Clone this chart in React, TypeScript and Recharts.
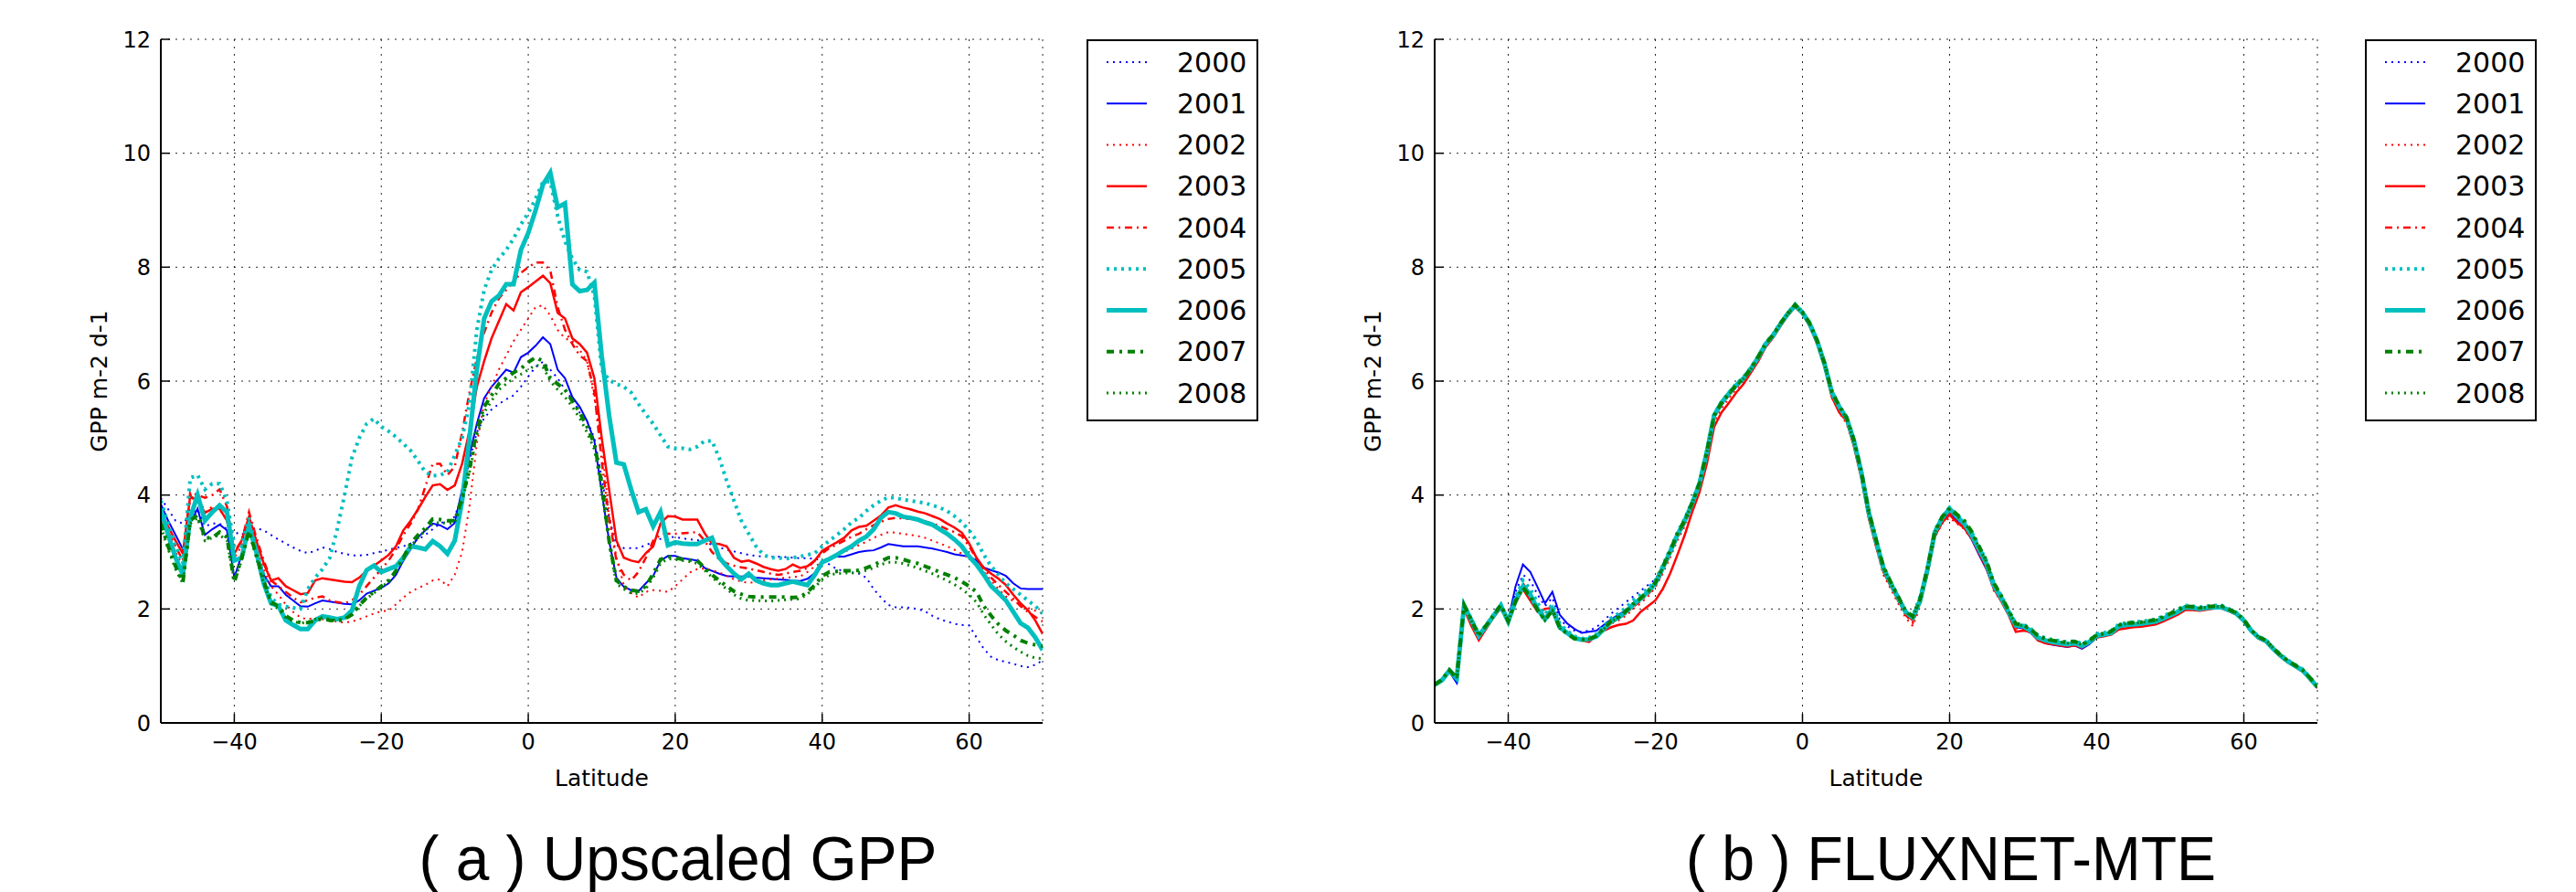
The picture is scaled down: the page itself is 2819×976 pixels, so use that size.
import React from 'react';
import { LineChart, Line, XAxis, YAxis, CartesianGrid } from 'recharts';

// --- latitude categories (degrees) ---
const LAT = [
  -50, -49, -48, -47, -46, -45, -44, -43, -42, -41,
  -40, -39, -38, -37, -36, -35, -34, -33, -32, -31,
  -30, -29, -28, -27, -26, -25, -24, -23, -22, -21,
  -20, -19, -18, -17, -16, -15, -14, -13, -12, -11,
  -10, -9, -8, -7, -6, -5, -4, -3, -2, -1,
  0, 1, 2, 3, 4, 5, 6, 7, 8, 9,
  10, 11, 12, 13, 14, 15, 16, 17, 18, 19,
  20, 21, 22, 23, 24, 25, 26, 27, 28, 29,
  30, 31, 32, 33, 34, 35, 36, 37, 38, 39,
  40, 41, 42, 43, 44, 45, 46, 47, 48, 49,
  50, 51, 52, 53, 54, 55, 56, 57, 58, 59,
  60, 61, 62, 63, 64, 65, 66, 67, 68, 69, 70,
];

// --- (a) Upscaled GPP ---
const A2000 = [
  3.95, 3.75, 3.55, 3.5, 3.65, 3.75, 3.45, 3.5, 3.5, 3.4,
  3.35, 3.3, 3.4, 3.42, 3.38, 3.3, 3.22, 3.15, 3.08, 3.02,
  2.98, 3.02, 3.08, 3.05, 3.0, 2.97, 2.94, 2.94, 2.95, 2.98,
  3.01, 3.04, 3.07, 3.1, 3.15, 3.22, 3.3, 3.4, 3.5, 3.55,
  3.62, 4.0, 4.6, 5.1, 5.35, 5.5, 5.6, 5.68, 5.75, 5.9,
  6.08, 6.25, 6.34, 6.2, 6.05, 5.85, 5.68, 5.45, 5.3, 5.0,
  4.3, 3.6, 3.12, 3.07, 3.07, 3.07, 3.12, 3.18, 3.23, 3.27,
  3.26, 3.24, 3.22, 3.21, 3.17, 3.13, 3.08, 3.04, 3.01, 2.98,
  2.95, 2.93, 2.92, 2.92, 2.92, 2.91, 2.9, 2.89, 2.89, 2.88,
  2.85, 2.78, 2.7, 2.66, 2.64, 2.62, 2.55, 2.35, 2.2, 2.07,
  2.03, 2.03, 2.02, 2.0, 1.96, 1.88, 1.82, 1.78, 1.74, 1.72,
  1.71, 1.5, 1.3, 1.16, 1.1, 1.07, 1.04, 1.0, 0.98, 1.02, 1.1,
];
const A2001 = [
  3.84, 3.55, 3.3, 3.05, 3.5, 3.76, 3.3, 3.4, 3.48, 3.38,
  2.55, 2.95, 3.4, 3.0, 2.6, 2.4, 2.4, 2.25, 2.15, 2.05,
  2.04, 2.1, 2.15, 2.13, 2.11, 2.09, 2.08, 2.15, 2.27, 2.32,
  2.37, 2.45, 2.6, 2.85, 3.05, 3.26, 3.38, 3.5, 3.47, 3.4,
  3.51, 4.1, 4.7, 5.25, 5.7, 5.9, 6.05, 6.2, 6.15, 6.42,
  6.5, 6.62, 6.77, 6.65, 6.2, 6.05, 5.72, 5.55, 5.3, 4.95,
  4.05, 3.2, 2.55, 2.39, 2.33, 2.31, 2.45, 2.58, 2.85, 2.93,
  2.93, 2.89, 2.87, 2.85, 2.72, 2.67, 2.62, 2.58, 2.57, 2.57,
  2.57, 2.55, 2.54, 2.53, 2.52, 2.51, 2.5, 2.49, 2.53, 2.63,
  2.8, 2.9, 2.92, 2.92, 2.96, 3.0, 3.02, 3.03, 3.08, 3.14,
  3.12, 3.1, 3.1, 3.1, 3.08, 3.06, 3.03, 3.0, 2.96, 2.94,
  2.92, 2.85, 2.73, 2.68, 2.64, 2.58, 2.45, 2.36, 2.35, 2.35, 2.35,
];
const A2002 = [
  3.6, 3.3, 3.0, 2.75, 3.9, 4.0, 3.7, 3.8, 3.75, 3.55,
  2.9, 3.1, 3.55, 3.1, 2.7, 2.4, 2.25, 2.08, 1.95, 1.85,
  1.82, 1.85, 1.82, 1.8, 1.78, 1.76, 1.78, 1.82, 1.87, 1.92,
  1.96, 1.97, 2.08, 2.2, 2.3, 2.37, 2.42, 2.5, 2.52, 2.4,
  2.6, 3.0, 3.8, 4.9, 5.6, 5.9, 6.2, 6.45, 6.7, 6.9,
  7.1, 7.3, 7.33, 7.15, 6.9, 6.75, 6.7, 6.55, 6.35, 5.7,
  4.9, 3.65, 2.9, 2.42, 2.28, 2.2, 2.3, 2.33, 2.32, 2.3,
  2.4, 2.52, 2.64, 2.7, 2.71, 2.68, 2.64, 2.58, 2.52, 2.48,
  2.46, 2.47, 2.5, 2.52, 2.53, 2.55, 2.56, 2.57, 2.65, 2.75,
  2.82, 2.88, 2.95, 3.0, 3.06, 3.12, 3.18, 3.25, 3.3, 3.35,
  3.34, 3.32, 3.3, 3.28, 3.25, 3.2, 3.15, 3.1, 3.04, 2.97,
  2.9, 2.8, 2.65, 2.5, 2.35, 2.22, 2.14, 2.08, 2.02, 1.97, 1.92,
];
const A2003 = [
  3.7, 3.45, 3.2, 2.97, 3.98, 3.9, 3.69, 3.76, 3.76, 3.55,
  2.97, 3.2, 3.62, 3.2, 2.8, 2.5, 2.54, 2.4, 2.33, 2.26,
  2.28, 2.5, 2.54, 2.52, 2.5, 2.48, 2.47, 2.55, 2.67, 2.76,
  2.85, 2.95, 3.1, 3.38, 3.55, 3.75, 3.97, 4.17, 4.19, 4.09,
  4.17, 4.55, 5.13, 5.9, 6.35, 6.75, 7.05, 7.35, 7.24, 7.56,
  7.65, 7.75, 7.85, 7.72, 7.2, 7.1, 6.75, 6.65, 6.5, 6.05,
  5.0, 4.1, 3.2, 2.9, 2.85, 2.82, 2.98, 3.1, 3.5, 3.63,
  3.62, 3.57, 3.57, 3.57, 3.33, 3.15, 3.14, 3.1, 2.9, 2.83,
  2.85, 2.8, 2.74, 2.7, 2.67, 2.7, 2.78, 2.72, 2.75, 2.85,
  3.02, 3.1, 3.17, 3.25, 3.38, 3.44, 3.46, 3.55, 3.64, 3.78,
  3.82, 3.78, 3.75, 3.71, 3.68, 3.63, 3.58, 3.5, 3.43, 3.34,
  3.15, 2.9, 2.72, 2.62, 2.53, 2.42, 2.25, 2.1, 1.98, 1.8, 1.56,
];
const A2004 = [
  3.6, 3.35, 3.1, 2.85, 4.05, 4.0, 3.95, 4.0, 4.1, 3.8,
  3.0, 3.2, 3.7, 3.25, 2.85, 2.5, 2.4, 2.3, 2.2, 2.12,
  2.15, 2.2, 2.22, 2.15, 2.12, 2.1, 2.15, 2.25, 2.4, 2.55,
  2.7, 2.85, 3.05, 3.3, 3.5, 3.75, 4.15, 4.55, 4.55, 4.35,
  4.5, 5.1, 5.8, 6.4, 6.85, 7.2, 7.45, 7.6, 7.75, 7.9,
  8.0, 8.08, 8.08, 7.94, 7.3, 6.9, 6.65, 6.45, 6.35, 5.8,
  4.6, 3.6, 2.85, 2.6, 2.5, 2.65, 2.9, 3.2, 3.3, 3.32,
  3.32, 3.33, 3.34, 3.35, 3.2, 3.0, 2.87, 2.8, 2.76, 2.73,
  2.71, 2.68, 2.65, 2.62, 2.6, 2.62, 2.65, 2.67, 2.72, 2.85,
  2.98, 3.07, 3.13, 3.2, 3.27, 3.32, 3.4, 3.47, 3.53, 3.58,
  3.6, 3.59, 3.58, 3.57, 3.54, 3.5, 3.46, 3.4, 3.35, 3.28,
  3.1, 2.88, 2.7, 2.55, 2.42, 2.3, 2.18, 2.05, 1.95, 1.86, 1.78,
];
const A2005 = [
  3.9, 3.5, 3.1, 2.8, 4.3, 4.35, 4.1, 4.2, 4.2, 3.9,
  3.1, 3.1, 3.6, 3.0, 2.6, 2.2, 2.08, 2.04, 2.02, 2.0,
  2.35, 2.55, 2.7, 2.9, 3.4, 4.0, 4.65, 5.0, 5.25, 5.34,
  5.2, 5.12, 5.02, 4.9, 4.78, 4.6, 4.4, 4.34, 4.35, 4.4,
  4.7, 5.0, 5.6, 6.9, 7.6, 7.95, 8.15, 8.3, 8.5, 8.75,
  8.95, 9.2, 9.5, 9.5, 8.9, 8.45, 8.15, 7.95, 7.92, 7.5,
  6.2, 6.02, 5.95, 5.9, 5.8, 5.6, 5.42, 5.25, 5.05, 4.85,
  4.82, 4.82, 4.8, 4.85, 4.95, 4.95, 4.65, 4.25, 3.9, 3.55,
  3.32, 3.1, 2.95, 2.9, 2.9, 2.88, 2.9, 2.92, 2.95, 2.98,
  3.1, 3.2, 3.3, 3.4, 3.52, 3.6, 3.72, 3.82, 3.9, 3.96,
  3.95, 3.92, 3.9, 3.88, 3.86, 3.82, 3.78, 3.72, 3.63, 3.52,
  3.38, 3.2, 2.95, 2.75, 2.6, 2.45, 2.35, 2.25, 2.15, 2.05, 1.92,
];
const A2006 = [
  3.75, 3.3, 2.9, 2.6, 3.6, 4.0, 3.55, 3.7, 3.82, 3.7,
  2.85, 2.9, 3.45, 3.0, 2.45, 2.1, 2.05, 1.8, 1.72, 1.65,
  1.65, 1.8, 1.87, 1.85, 1.82, 1.85, 1.97, 2.4, 2.68, 2.76,
  2.65, 2.7, 2.75, 2.9, 3.1, 3.08, 3.05, 3.19, 3.1, 2.97,
  3.2, 3.9, 5.0, 6.2, 7.1, 7.4, 7.5, 7.7, 7.7, 8.3,
  8.6, 9.0, 9.45, 9.66, 9.05, 9.12, 7.7, 7.58, 7.6, 7.73,
  6.44, 5.4, 4.57, 4.54, 4.1, 3.7, 3.75, 3.45, 3.7, 3.12,
  3.17, 3.15, 3.14, 3.14, 3.2, 3.25, 2.9, 2.75, 2.62, 2.52,
  2.62, 2.5, 2.45, 2.42, 2.42, 2.45, 2.48, 2.45, 2.42, 2.6,
  2.82, 2.88, 2.95, 3.03, 3.1, 3.2, 3.27, 3.4, 3.6, 3.7,
  3.68, 3.62, 3.6, 3.57, 3.52, 3.48, 3.4, 3.32, 3.22, 3.1,
  2.92, 2.78, 2.6, 2.4, 2.28, 2.15, 1.95, 1.75, 1.67, 1.5, 1.28,
];
const A2007 = [
  3.5, 3.1, 2.75, 2.47, 3.55, 3.65, 3.25, 3.25, 3.35, 3.26,
  2.47, 2.9, 3.37, 2.95, 2.5, 2.12, 2.05, 1.88, 1.8, 1.76,
  1.76, 1.8, 1.83, 1.8, 1.79, 1.82, 1.9, 2.06, 2.2, 2.3,
  2.4, 2.5, 2.67, 2.9, 3.15, 3.3, 3.42, 3.58, 3.57, 3.55,
  3.55, 3.95, 4.45, 5.15, 5.55, 5.75, 5.95, 6.05, 6.15, 6.22,
  6.33, 6.42, 6.35, 6.05, 5.95, 5.85, 5.65, 5.45, 5.2, 4.9,
  4.2, 3.2, 2.5, 2.39, 2.33, 2.31, 2.4, 2.62, 2.87, 2.92,
  2.9, 2.87, 2.86, 2.85, 2.72, 2.6, 2.5, 2.4, 2.31, 2.26,
  2.22, 2.21, 2.21, 2.21, 2.21, 2.21, 2.2, 2.21, 2.3, 2.42,
  2.58, 2.65, 2.66, 2.67, 2.67, 2.68, 2.72, 2.77, 2.84, 2.9,
  2.9, 2.87, 2.83, 2.8, 2.75, 2.7, 2.65, 2.6, 2.55, 2.48,
  2.4, 2.3, 2.05, 1.88, 1.73, 1.62, 1.54, 1.45, 1.4, 1.37, 1.35,
];
const A2008 = [
  3.45, 3.05, 2.7, 2.45, 3.5, 3.6, 3.2, 3.25, 3.3, 3.2,
  2.5, 2.85, 3.35, 2.9, 2.45, 2.1, 2.0, 1.85, 1.78, 1.75,
  1.77, 1.82, 1.85, 1.82, 1.8, 1.83, 1.9, 2.05, 2.18, 2.28,
  2.38, 2.48, 2.65, 2.87, 3.1, 3.25, 3.38, 3.5, 3.52, 3.5,
  3.52, 3.9, 4.4, 5.05, 5.45, 5.65, 5.85, 5.95, 6.05, 6.12,
  6.2, 6.28, 6.25, 6.0, 5.85, 5.72, 5.55, 5.35, 5.1, 4.8,
  4.1, 3.15, 2.45, 2.35, 2.28, 2.27, 2.36, 2.55, 2.8, 2.88,
  2.87, 2.85, 2.83, 2.8, 2.68, 2.56, 2.45, 2.35, 2.25, 2.18,
  2.15, 2.15, 2.14, 2.14, 2.15, 2.16, 2.17, 2.18, 2.26, 2.38,
  2.52, 2.6, 2.62, 2.63, 2.63, 2.64, 2.68, 2.72, 2.78, 2.82,
  2.82, 2.8, 2.76, 2.72, 2.67, 2.62, 2.56, 2.5, 2.43, 2.35,
  2.25, 2.12, 1.9, 1.72, 1.55, 1.43, 1.33, 1.25, 1.18, 1.14, 1.13,
];

// --- (b) FLUXNET-MTE ---
const B2000 = [
  0.67, 0.75, 0.9, 0.76, 2.04, 1.8, 1.55, 1.7, 1.88, 2.05,
  1.8, 2.3, 2.6, 2.5, 2.25, 2.05, 2.2, 1.82, 1.7, 1.62,
  1.6, 1.62, 1.68, 1.8, 1.92, 2.02, 2.12, 2.22, 2.32, 2.42,
  2.52, 2.75, 3.0, 3.28, 3.52, 3.82, 4.18, 4.72, 5.36, 5.6,
  5.76, 5.92, 6.05, 6.22, 6.42, 6.64, 6.8, 7.0, 7.18, 7.32,
  7.2, 7.0, 6.68, 6.28, 5.78, 5.52, 5.32, 4.92, 4.38, 3.68,
  3.16, 2.68, 2.4, 2.16, 1.92, 1.82, 2.15, 2.65, 3.3, 3.55,
  3.7, 3.56, 3.45, 3.25, 3.0, 2.75, 2.38, 2.16, 1.92, 1.68,
  1.67, 1.6, 1.47, 1.42, 1.38, 1.37, 1.35, 1.37, 1.32, 1.4,
  1.5, 1.53, 1.56, 1.68, 1.7, 1.72, 1.73, 1.75, 1.77, 1.82,
  1.88, 1.94, 2.01, 2.0, 1.98, 2.0, 2.02, 2.02, 1.97, 1.9,
  1.78, 1.6, 1.48, 1.42, 1.28, 1.16, 1.06, 0.98, 0.9, 0.76, 0.62,
];
const B2001 = [
  0.67, 0.75, 0.9, 0.7, 2.04, 1.78, 1.52, 1.7, 1.88, 2.0,
  1.8, 2.4, 2.78, 2.65, 2.38, 2.1, 2.3, 1.9, 1.75, 1.65,
  1.58, 1.6, 1.62, 1.72, 1.82, 1.9, 1.98, 2.08, 2.2, 2.3,
  2.45, 2.72, 3.0, 3.28, 3.52, 3.82, 4.18, 4.72, 5.36, 5.6,
  5.76, 5.92, 6.04, 6.2, 6.4, 6.63, 6.8, 7.0, 7.17, 7.32,
  7.2, 7.0, 6.68, 6.28, 5.78, 5.53, 5.33, 4.93, 4.38, 3.68,
  3.18, 2.7, 2.42, 2.18, 1.93, 1.83, 2.17, 2.66, 3.3, 3.55,
  3.68, 3.55, 3.42, 3.22, 2.95, 2.7, 2.36, 2.15, 1.92, 1.68,
  1.66, 1.58, 1.46, 1.4, 1.37, 1.35, 1.33, 1.36, 1.3, 1.38,
  1.5, 1.53, 1.56, 1.68, 1.7, 1.71, 1.72, 1.74, 1.76, 1.81,
  1.87, 1.93, 2.0, 2.0, 1.98, 2.0, 2.02, 2.02, 1.97, 1.9,
  1.78, 1.6, 1.48, 1.42, 1.28, 1.16, 1.06, 0.98, 0.9, 0.76, 0.62,
];
const B2002 = [
  0.66, 0.74, 0.9, 0.76, 2.02, 1.75, 1.48, 1.68, 1.86, 2.04,
  1.76, 2.12, 2.42, 2.22, 1.98, 1.9, 2.02, 1.7, 1.58, 1.48,
  1.45, 1.45, 1.55, 1.64, 1.74, 1.8, 1.88, 2.0, 2.1, 2.22,
  2.38, 2.62, 2.9, 3.2, 3.45, 3.78, 4.12, 4.65, 5.28, 5.52,
  5.7, 5.86, 6.0, 6.18, 6.38, 6.6, 6.76, 6.96, 7.15, 7.3,
  7.18, 6.96, 6.64, 6.24, 5.72, 5.45, 5.25, 4.85, 4.3, 3.6,
  3.08, 2.6, 2.35, 2.1, 1.85, 1.7, 2.05, 2.6, 3.25, 3.5,
  3.6, 3.5, 3.4, 3.22, 2.98, 2.74, 2.32, 2.14, 1.9, 1.66,
  1.64, 1.58, 1.46, 1.42, 1.4, 1.38, 1.36, 1.38, 1.33, 1.4,
  1.5, 1.53, 1.56, 1.67, 1.69, 1.7, 1.71, 1.73, 1.75, 1.8,
  1.86, 1.92, 2.0, 1.99, 1.98, 2.0, 2.01, 2.01, 1.96, 1.9,
  1.78, 1.6, 1.48, 1.42, 1.28, 1.16, 1.06, 0.98, 0.9, 0.76, 0.61,
];
const B2003 = [
  0.66, 0.74, 0.9, 0.76, 2.0, 1.7, 1.45, 1.65, 1.85, 2.02,
  1.75, 2.1, 2.35, 2.15, 1.95, 2.0, 2.02, 1.7, 1.58, 1.48,
  1.45, 1.42, 1.55, 1.62, 1.68, 1.72, 1.74, 1.8, 1.95, 2.05,
  2.15, 2.35, 2.62, 2.95, 3.3, 3.7, 4.05, 4.55, 5.2, 5.45,
  5.62, 5.8, 5.95, 6.15, 6.35, 6.6, 6.76, 6.96, 7.15, 7.3,
  7.18, 6.96, 6.65, 6.25, 5.72, 5.45, 5.3, 4.85, 4.3, 3.6,
  3.1, 2.65, 2.4, 2.15, 1.92, 1.8, 2.12, 2.62, 3.28, 3.52,
  3.65, 3.52, 3.42, 3.24, 2.98, 2.72, 2.36, 2.14, 1.9, 1.6,
  1.62, 1.6, 1.45, 1.4, 1.38, 1.36, 1.34, 1.36, 1.32, 1.4,
  1.5, 1.52, 1.55, 1.64, 1.66, 1.68, 1.69, 1.71, 1.73, 1.78,
  1.84, 1.9, 1.98, 1.98, 1.97, 1.99, 2.01, 2.01, 1.96, 1.9,
  1.78, 1.6, 1.48, 1.42, 1.28, 1.16, 1.06, 0.98, 0.9, 0.76, 0.62,
];
const B2004 = [
  0.67, 0.75, 0.92, 0.77, 2.05, 1.78, 1.5, 1.69, 1.87, 2.05,
  1.77, 2.14, 2.45, 2.25, 1.98, 1.84, 2.02, 1.68, 1.57, 1.48,
  1.46, 1.46, 1.53, 1.65, 1.76, 1.83, 1.92, 2.04, 2.14, 2.26,
  2.4, 2.66, 2.95, 3.25, 3.5, 3.8, 4.15, 4.7, 5.35, 5.58,
  5.75, 5.9, 6.03, 6.2, 6.4, 6.63, 6.79, 6.99, 7.17, 7.32,
  7.2, 6.98, 6.68, 6.28, 5.76, 5.5, 5.3, 4.9, 4.35, 3.65,
  3.15, 2.68, 2.4, 2.15, 1.9, 1.76, 2.12, 2.66, 3.3, 3.56,
  3.7, 3.58, 3.46, 3.27, 3.02, 2.76, 2.38, 2.17, 1.93, 1.7,
  1.68, 1.61, 1.49, 1.44, 1.41, 1.39, 1.37, 1.39, 1.34, 1.41,
  1.52, 1.54, 1.57, 1.69, 1.71, 1.72, 1.73, 1.75, 1.77, 1.82,
  1.88, 1.94, 2.02, 2.01, 1.99, 2.01, 2.02, 2.02, 1.97, 1.91,
  1.79, 1.61, 1.49, 1.43, 1.29, 1.17, 1.07, 0.99, 0.91, 0.77, 0.62,
];
const B2005 = [
  0.68, 0.76, 0.93, 0.79, 2.08, 1.82, 1.56, 1.72, 1.9, 2.08,
  1.8, 2.2, 2.5, 2.35, 2.1, 1.9, 2.08, 1.74, 1.62, 1.52,
  1.48, 1.5, 1.56, 1.7, 1.84, 1.92, 2.02, 2.15, 2.25, 2.36,
  2.5, 2.76, 3.04, 3.34, 3.58, 3.88, 4.22, 4.78, 5.42, 5.64,
  5.8, 5.95, 6.07, 6.24, 6.44, 6.67, 6.82, 7.02, 7.2, 7.35,
  7.22, 7.02, 6.72, 6.32, 5.82, 5.57, 5.37, 4.97, 4.42, 3.72,
  3.22, 2.74, 2.47, 2.22, 1.97, 1.87, 2.22, 2.72, 3.37, 3.62,
  3.78, 3.65, 3.54, 3.35, 3.1, 2.85, 2.46, 2.24, 1.98, 1.74,
  1.73, 1.66, 1.54, 1.49, 1.46, 1.44, 1.42, 1.44, 1.39, 1.45,
  1.56, 1.58, 1.62, 1.73, 1.76, 1.77, 1.78, 1.8, 1.82, 1.87,
  1.93, 1.99, 2.06, 2.05, 2.03, 2.05, 2.06, 2.06, 2.0, 1.94,
  1.82, 1.64, 1.52, 1.46, 1.32, 1.2, 1.1, 1.02, 0.94, 0.8, 0.64,
];
const B2006 = [
  0.67, 0.75, 0.92, 0.78, 2.06, 1.8, 1.53, 1.7, 1.88, 2.06,
  1.78, 2.15, 2.4, 2.25, 2.0, 1.82, 2.0, 1.68, 1.58, 1.49,
  1.46, 1.47, 1.52, 1.65, 1.78, 1.85, 1.95, 2.08, 2.18, 2.3,
  2.45, 2.72, 3.0, 3.3, 3.55, 3.85, 4.2, 4.75, 5.4, 5.62,
  5.78, 5.93, 6.05, 6.22, 6.42, 6.65, 6.8, 7.0, 7.18, 7.33,
  7.2, 7.0, 6.7, 6.3, 5.8, 5.55, 5.35, 4.95, 4.4, 3.7,
  3.2, 2.72, 2.45, 2.2, 1.95, 1.85, 2.15, 2.7, 3.35, 3.6,
  3.76, 3.62, 3.5, 3.3, 3.05, 2.8, 2.42, 2.2, 1.95, 1.71,
  1.7, 1.62, 1.5, 1.45, 1.42, 1.4, 1.38, 1.4, 1.35, 1.42,
  1.53, 1.55, 1.58, 1.7, 1.72, 1.73, 1.74, 1.76, 1.78, 1.83,
  1.89, 1.95, 2.03, 2.02, 2.0, 2.02, 2.03, 2.03, 1.98, 1.92,
  1.8, 1.62, 1.5, 1.44, 1.3, 1.18, 1.08, 1.0, 0.92, 0.78, 0.63,
];
const B2007 = [
  0.67, 0.76, 0.93, 0.79, 2.07, 1.8, 1.54, 1.71, 1.89, 2.07,
  1.79, 2.14, 2.38, 2.22, 1.98, 1.8, 1.98, 1.67, 1.57, 1.48,
  1.46, 1.47, 1.53, 1.66, 1.79, 1.86, 1.96, 2.09, 2.19, 2.31,
  2.46, 2.73, 3.02, 3.32, 3.56, 3.86, 4.21, 4.76, 5.4, 5.62,
  5.78, 5.93, 6.05, 6.22, 6.43, 6.66, 6.81, 7.01, 7.19, 7.34,
  7.21, 7.01, 6.71, 6.31, 5.81, 5.56, 5.36, 4.96, 4.41, 3.72,
  3.22, 2.74, 2.47, 2.22, 1.97, 1.87, 2.18, 2.72, 3.36, 3.62,
  3.77, 3.66, 3.55, 3.36, 3.1, 2.85, 2.46, 2.24, 1.98, 1.74,
  1.72, 1.65, 1.53, 1.48, 1.45, 1.43, 1.41, 1.43, 1.38, 1.44,
  1.55, 1.57, 1.61, 1.72, 1.75, 1.76, 1.77, 1.79, 1.81, 1.86,
  1.92, 1.98, 2.05, 2.04, 2.02, 2.04, 2.05, 2.05, 1.99, 1.93,
  1.81, 1.63, 1.51, 1.45, 1.31, 1.19, 1.09, 1.01, 0.93, 0.79, 0.63,
];
const B2008 = [
  0.67, 0.75, 0.92, 0.78, 2.06, 1.79, 1.53, 1.7, 1.88, 2.06,
  1.78, 2.13, 2.37, 2.21, 1.97, 1.8, 1.97, 1.66, 1.56, 1.48,
  1.46, 1.47, 1.53, 1.65, 1.78, 1.85, 1.95, 2.08, 2.18, 2.3,
  2.45, 2.72, 3.0, 3.3, 3.55, 3.85, 4.2, 4.74, 5.39, 5.61,
  5.77, 5.92, 6.04, 6.21, 6.42, 6.65, 6.8, 7.0, 7.18, 7.33,
  7.2, 7.0, 6.7, 6.3, 5.8, 5.55, 5.35, 4.95, 4.4, 3.7,
  3.2, 2.72, 2.45, 2.2, 1.95, 1.85, 2.16, 2.7, 3.34, 3.6,
  3.75, 3.63, 3.52, 3.33, 3.08, 2.83, 2.44, 2.22, 1.96, 1.72,
  1.71, 1.64, 1.52, 1.47, 1.44, 1.42, 1.4, 1.42, 1.37, 1.43,
  1.54, 1.56, 1.6, 1.71, 1.74, 1.75, 1.76, 1.78, 1.8, 1.85,
  1.91, 1.97, 2.04, 2.03, 2.01, 2.03, 2.04, 2.04, 1.99, 1.93,
  1.81, 1.63, 1.51, 1.45, 1.31, 1.19, 1.09, 1.01, 0.93, 0.79, 0.63,
];

const YEARS = ['2000', '2001', '2002', '2003', '2004', '2005', '2006', '2007', '2008'];
const SERIES_A = [A2000, A2001, A2002, A2003, A2004, A2005, A2006, A2007, A2008];
const SERIES_B = [B2000, B2001, B2002, B2003, B2004, B2005, B2006, B2007, B2008];

const X_TICKS = [-40, -20, 0, 20, 40, 60];
const Y_TICKS = [0, 2, 4, 6, 8, 10, 12];

// matplotlib-ish line styles, one per year
const STYLES = [
  { color: '#0000ff', width: 2, dash: '2 5' },
  { color: '#0000ff', width: 2, dash: undefined },
  { color: '#ff0000', width: 2, dash: '2 5' },
  { color: '#ff0000', width: 2.5, dash: undefined },
  { color: '#ff0000', width: 2.5, dash: '8 5 2 5' },
  { color: '#00bfbf', width: 4, dash: '3 5' },
  { color: '#00bfbf', width: 5, dash: undefined },
  { color: '#008000', width: 4, dash: '8 6 3 6' },
  { color: '#008000', width: 3, dash: '2 5' },
];

const FONT = 'DejaVu Sans, sans-serif';
const tickStyle = { fontFamily: FONT, fontSize: 24, fill: '#000' };
const frame = { stroke: '#000', strokeWidth: 2 };
const tickLine = { stroke: '#000', strokeWidth: 1.5 };

const fmt = (v: number) => (v < 0 ? `\u2212${-v}` : `${v}`);

const Legend9 = ({ left }: { left: number }) => (
  <svg style={{ position: 'absolute', left, top: 43 }} width={188} height={418}>
    <rect x={1} y={1} width={186} height={416} fill="#fff" stroke="#000" strokeWidth={2} />
    {YEARS.map((y, i) => {
      const s = STYLES[i];
      const cy = 25 + i * 45.25;
      return (
        <g key={y}>
          <line x1={22} x2={66} y1={cy} y2={cy} stroke={s.color} strokeWidth={s.width} strokeDasharray={s.dash} />
          <text x={99} y={cy} dominantBaseline="central" fontFamily={FONT} fontSize={30} fill="#000">{y}</text>
        </g>
      );
    })}
  </svg>
);

const Panel = ({ series, left, plotRight, legendLeft }: { series: number[][]; left: number; plotRight: number; legendLeft: number }) => {
  const data = LAT.map((lat, i) => {
    const row: any = { lat };
    series.forEach((s, k) => { row['y' + YEARS[k]] = s[i]; });
    return row;
  });
  return (
    <>
      <div style={{ position: 'absolute', left, top: 0 }}>
        <LineChart width={1400} height={880} data={data} margin={{ top: 43, right: 1400 - plotRight, bottom: 0, left: 0 }}>
          <CartesianGrid stroke="#000" strokeOpacity={0.85} strokeDasharray="2 6" strokeWidth={1} />
          <XAxis dataKey="lat" type="number" domain={[-50, 70]} ticks={X_TICKS} interval={0} allowDataOverflow
            tickFormatter={fmt} height={89} tickSize={-10} tickMargin={22} tick={tickStyle}
            axisLine={frame} tickLine={tickLine}
            label={{ value: 'Latitude', position: 'insideBottom', offset: 20, fill: '#000', fontSize: 25, fontFamily: FONT }} />
          <XAxis xAxisId="top" orientation="top" dataKey="lat" type="number" domain={[-50, 70]} ticks={X_TICKS} interval={0} allowDataOverflow
            height={0} tickSize={-10} tick={false} axisLine={frame} tickLine={tickLine} />
          <YAxis type="number" domain={[0, 12]} ticks={Y_TICKS} interval={0} allowDataOverflow
            width={176} tickSize={-10} tickMargin={21} tick={tickStyle} axisLine={frame} tickLine={tickLine}
            label={{ value: 'GPP m-2 d-1', angle: -90, position: 'insideLeft', offset: 108, fill: '#000', fontSize: 25, fontFamily: FONT, style: { textAnchor: 'middle' } }} />
          <YAxis yAxisId="right" orientation="right" type="number" domain={[0, 12]} ticks={Y_TICKS} interval={0} allowDataOverflow
            width={0} tickSize={-10} tick={false} axisLine={frame} tickLine={tickLine} />
          {YEARS.map((y, i) => (
            <Line key={y} type="linear" dataKey={'y' + y} stroke={STYLES[i].color} strokeWidth={STYLES[i].width}
              strokeDasharray={STYLES[i].dash} dot={false} activeDot={false} isAnimationActive={false} />
          ))}
        </LineChart>
      </div>
      <Legend9 left={legendLeft} />
    </>
  );
};

const Caption = ({ text, cx, len }: { text: string; cx: number; len: number }) => (
  <svg style={{ position: 'absolute', left: cx - 400, top: 880 }} width={800} height={96}>
    <text x={400} y={83} textAnchor="middle" fontFamily="Liberation Sans, Arial, sans-serif" fontSize={68} fill="#000"
      textLength={len} lengthAdjust="spacingAndGlyphs">{text}</text>
  </svg>
);

export default function App() {
  return (
    <div style={{ position: 'absolute', left: 0, top: 0, width: 2819, height: 976, background: '#fff', overflow: 'hidden' }}>
      <Panel series={SERIES_A} left={0} plotRight={1141} legendLeft={1189} />
      <Panel series={SERIES_B} left={1394} plotRight={1142} legendLeft={2588} />
      <Caption text="( a ) Upscaled GPP" cx={742} len={567} />
      <Caption text="( b ) FLUXNET-MTE" cx={2135} len={580} />
    </div>
  );
}
